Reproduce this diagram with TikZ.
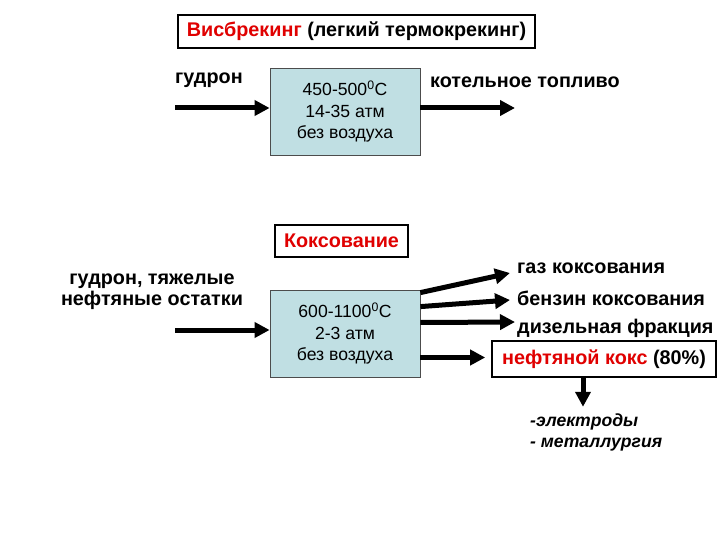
\documentclass[tikz,border=0pt]{standalone}
\usepackage{fontspec}
\setmainfont{Liberation Sans}
\usetikzlibrary{positioning,arrows.meta,calc}
\definecolor{procfill}{HTML}{C0DFE3}
\definecolor{hdred}{HTML}{E00000}
\tikzset{
  proc/.style  ={draw=black!70, fill=procfill, minimum width=150pt, minimum height=87pt,
                 align=center, font=\fontsize{17.6}{21.5}\selectfont, line width=0.8pt},
  hdr/.style   ={draw, line width=1.6pt, inner sep=0pt, font=\fontsize{19.8}{22}\selectfont\bfseries},
  lbl/.style   ={inner sep=0pt, align=center, font=\fontsize{19.8}{21}\selectfont\bfseries},
  prod/.style  ={lbl, anchor=west},
  note/.style  ={inner sep=0pt, align=left, font=\fontsize{17.6}{21}\selectfont\bfseries\itshape},
  fl/.style    ={-{Triangle[length=15pt,width=15pt]}, line width=5pt}
}
\begin{document}
\begin{tikzpicture}[x=1pt,y=-1pt]
  \useasboundingbox[fill=white] (0,0) rectangle (720,540);

  % visbreaking
  \node[hdr, minimum width=357pt, minimum height=33pt](vbtitle) at (356.5,31.5)
    {\textcolor{hdred}{Висбрекинг} (легкий термокрекинг)};
  \node[lbl, anchor=west](tar) at (175,80){гудрон};
  \node[proc](vb) at (345,111.5){450-500\textsuperscript{0}C\\14-35 атм\\без воздуха};
  \node[lbl, anchor=west](fuel) at (430,82){котельное топливо};
  \coordinate(vbin) at (175,108);
  \coordinate(vbout) at (515,108);

  % coking
  \node[hdr, minimum width=133pt, minimum height=32pt](cktitle) at (341.5,241)
    {\textcolor{hdred}{Коксование}};
  \node[lbl](resid) at (152,292){гудрон, тяжелые\\нефтяные остатки};
  \node[proc](ck) at (345,333.5){600-1100\textsuperscript{0}C\\2-3 атм\\без воздуха};
  \coordinate(ckin) at (175,330);

  \node[prod](gas) at (517,268){газ коксования};
  \node[prod](gasol) at (517,298){бензин коксования};
  \node[prod](diesel) at (517,328){дизельная фракция};
  \node[hdr, minimum width=224pt, minimum height=36pt](coke) at (604,359)
    {\textcolor{hdred}{нефтяной кокс} (80\%)};
  \node[note, anchor=north west](use) at (530,414){-электроды\\- металлургия};

  \draw[fl](vbin)--(vb.west|-vbin);
  \draw[fl](vb.east|-vbout)--(vbout);
  \draw[fl](ckin)--(ck.west|-ckin);
  \draw[fl]($(ck.north east)+(0,3)$)--($(gas.west)+(-7,5)$);
  \draw[fl]($(ck.north east)+(0,17)$)--($(gasol.west)+(-7,2)$);
  \draw[fl]($(ck.east)+(0,-11)$)--($(diesel.west)+(-2,-6)$);
  \draw[fl,shorten >=6pt]($(ck.east)+(0,24)$)--(coke.west|-{$(ck.east)+(0,24)$});
  \draw[fl](coke.south-|583,0)--++(0,29);
\end{tikzpicture}
\end{document}
